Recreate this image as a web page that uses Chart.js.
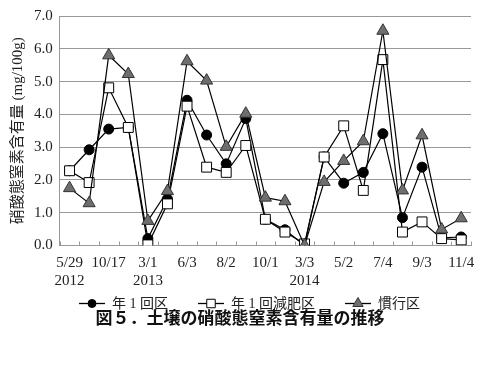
<!DOCTYPE html>
<html>
<head>
<meta charset="utf-8">
<script src="https://cdn.jsdelivr.net/npm/chart.js@4.4.1/dist/chart.umd.min.js"></script>
<style>
  body { margin: 0; background: #fff; }
</style>
</head>
<body>
<canvas id="myChart" width="487" height="366"></canvas>
<script>
// sampling dates (only every other one is labelled in the figure)
const dates = ['5/29', '', '10/17', '', '3/1', '', '6/3', '', '8/2', '', '10/1', '', '3/3', '', '5/2', '', '7/4', '', '9/3', '', '11/4'];
const years = ['2012', '', '', '', '2013', '', '', '', '', '', '', '', '2014', '', '', '', '', '', '', '', ''];

// nitrate nitrogen content (mg/100g)
const plotOnce = [2.28, 2.92, 3.55, 3.6, 0.21, 1.42, 4.43, 3.37, 2.49, 3.87, 0.8, 0.48, 0, 2.7, 1.9, 2.23, 3.41, 0.85, 2.39, 0.23, 0.26];
const plotOnceReduced = [2.28, 1.92, 4.81, 3.6, 0.02, 1.27, 4.25, 2.39, 2.23, 3.05, 0.8, 0.41, 0.05, 2.7, 3.65, 1.68, 5.67, 0.41, 0.72, 0.21, 0.17];
const plotConventional = [1.75, 1.29, 5.8, 5.23, 0.75, 1.66, 5.62, 5.03, 3.01, 4.02, 1.46, 1.35, 0, 1.94, 2.58, 3.18, 6.55, 1.68, 3.36, 0.49, 0.83];

const seriesNames = ['年 1 回区', '年 1 回減肥区', '慣行区'];
const yTicks = [0, 1, 2, 3, 4, 5, 6, 7];

const labels = dates.map((d, i) => years[i] ? [d, years[i]] : d);
const serif = "'Liberation Serif', 'Noto Sans CJK JP', serif";

// small tick marks pointing up into the plot at category boundaries
const innerTicks = {
    id: 'innerTicks',
    beforeDatasetsDraw(chart) {
        const ctx = chart.ctx;
        const x = chart.scales.x;
        const bottom = chart.chartArea.bottom;
        ctx.save();
        ctx.strokeStyle = '#999';
        ctx.lineWidth = 1;
        for (let i = 0; i <= dates.length; i++) {
            const px = Math.round(x.getPixelForValue(i - 0.5)) + 0.5;
            ctx.beginPath();
            ctx.moveTo(px, bottom - 4);
            ctx.lineTo(px, bottom);
            ctx.stroke();
        }
        ctx.restore();
    }
};

// legend drawn as line + marker + text, between the axis labels and the title
const lineLegend = {
    id: 'lineLegend',
    afterDraw(chart) {
        const ctx = chart.ctx;
        const sets = chart.data.datasets;
        const lineLen = 26, gap = 7, spacing = 30;
        ctx.save();
        ctx.font = '14px ' + serif;
        let total = 0;
        sets.forEach((ds, i) => {
            total += lineLen + gap + ctx.measureText(ds.label).width;
            if (i < sets.length - 1) total += spacing;
        });
        let x = (chart.width - total) / 2 + 6;
        const y = chart.chartArea.bottom + 58;
        sets.forEach(ds => {
            ctx.strokeStyle = '#000';
            ctx.lineWidth = 1.3;
            ctx.beginPath();
            ctx.moveTo(x, y);
            ctx.lineTo(x + lineLen, y);
            ctx.stroke();
            ctx.fillStyle = ds.pointBackgroundColor;
            ctx.strokeStyle = ds.pointBorderColor;
            ctx.lineWidth = 1;
            Chart.helpers.drawPoint(ctx, {
                pointStyle: ds.pointStyle,
                radius: ds.pointRadius - 1,
                rotation: 0,
                borderWidth: 1
            }, x + lineLen / 2, y);
            x += lineLen + gap;
            ctx.fillStyle = '#222';
            ctx.textBaseline = 'middle';
            ctx.textAlign = 'left';
            ctx.fillText(ds.label, x, y + 1);
            x += ctx.measureText(ds.label).width + spacing;
        });
        ctx.restore();
    }
};

const ctx = document.getElementById('myChart').getContext('2d');
const chart = new Chart(ctx, {
    type: 'line',
    data: {
        labels: labels,
        datasets: [{
            label: seriesNames[0],
            data: plotOnce,
            borderColor: '#000',
            borderWidth: 1.2,
            pointStyle: 'circle',
            pointRadius: 5,
            pointBackgroundColor: '#000',
            pointBorderColor: '#000',
            pointBorderWidth: 1,
            order: 3
        }, {
            label: seriesNames[1],
            data: plotOnceReduced,
            borderColor: '#000',
            borderWidth: 1.2,
            pointStyle: 'rect',
            pointRadius: 7,
            pointBackgroundColor: '#fff',
            pointBorderColor: '#000',
            pointBorderWidth: 1,
            order: 2
        }, {
            label: seriesNames[2],
            data: plotConventional,
            borderColor: '#000',
            borderWidth: 1.2,
            pointStyle: 'triangle',
            pointRadius: 7,
            pointBackgroundColor: '#6e6e6e',
            pointBorderColor: '#333',
            pointBorderWidth: 1,
            order: 1
        }]
    },
    options: {
        responsive: false,
        animation: false,
        layout: {
            padding: { top: 10, right: 16, left: 9, bottom: 0 }
        },
        plugins: {
            legend: { display: false },
            tooltip: { enabled: false },
            title: {
                display: true,
                position: 'bottom',
                text: '図５．土壌の硝酸態窒素含有量の推移',
                color: '#111',
                font: { family: "'Noto Sans CJK JP', sans-serif", size: 17, weight: 'bold' },
                padding: { top: 9, bottom: 38 }
            }
        },
        scales: {
            x: {
                offset: true,
                grid: { offset: true, drawOnChartArea: false, drawTicks: false },
                border: { color: '#999' },
                ticks: {
                    autoSkip: false,
                    maxRotation: 0,
                    padding: 9,
                    color: '#222',
                    font: { family: serif, size: 15, lineHeight: 1.17 }
                }
            },
            y: {
                min: 0,
                max: 7,
                afterBuildTicks: axis => { axis.ticks = yTicks.map(v => ({ value: v })); },
                grid: { color: '#999', drawTicks: false },
                border: { color: '#999' },
                ticks: {
                    padding: 7,
                    color: '#222',
                    font: { family: serif, size: 15 },
                    callback: v => v.toFixed(1)
                },
                title: {
                    display: true,
                    text: '硝酸態窒素含有量 (mg/100g)',
                    color: '#222',
                    font: { family: serif, size: 15 },
                    padding: { top: 0, bottom: 0 }
                }
            }
        }
    },
    plugins: [innerTicks, lineLegend]
});
</script>
</body>
</html>
